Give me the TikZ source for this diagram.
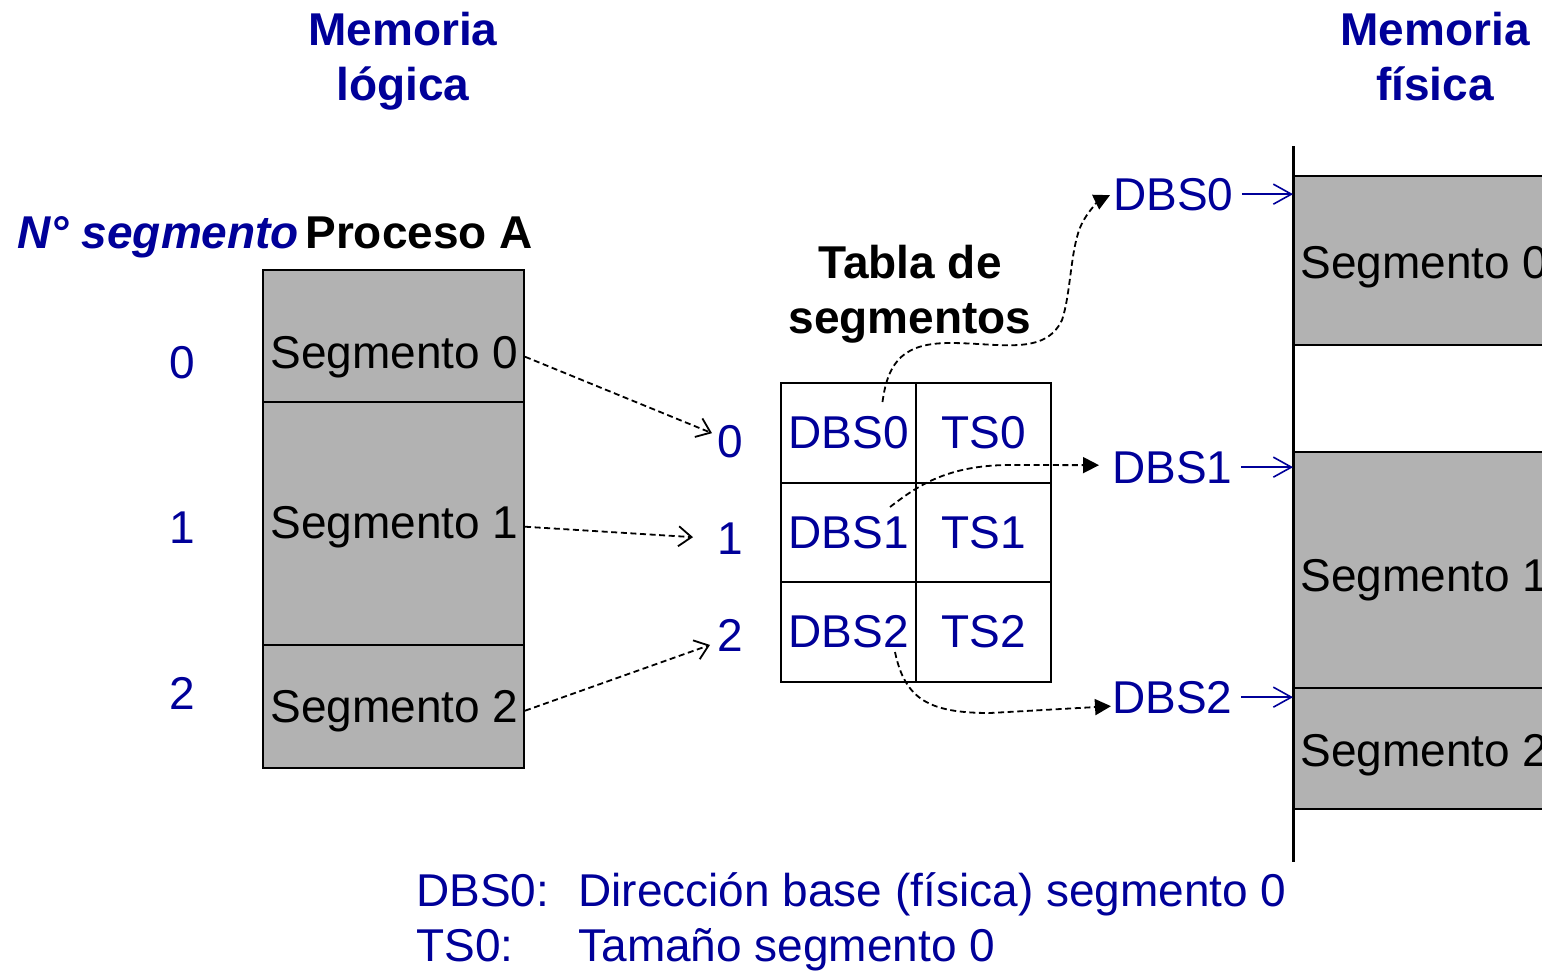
\documentclass[tikz,border=0pt]{standalone}
\usepackage{fontspec}
\setmainfont{Liberation Sans}
\usetikzlibrary{arrows.meta}
\definecolor{dblue}{RGB}{0,0,153}
\definecolor{segray}{RGB}{178,178,178}
\tikzset{
  txt/.style={inner sep=0pt, font=\fontsize{23}{27.5}\selectfont},
  btxt/.style={txt, anchor=base west},
  bluetxt/.style={btxt, text=dblue},
  title/.style={inner sep=0pt, anchor=base, text=dblue, font=\fontsize{23}{27.5}\selectfont\bfseries},
  segbox/.style={draw=black, line width=1pt, fill=segray, anchor=north west, inner sep=0pt, minimum width=130.5pt},
  cell/.style={draw=black, line width=1pt, inner sep=0pt, minimum width=67.5pt, minimum height=49.75pt, text=dblue, font=\fontsize{23}{27.5}\selectfont},
  dasharrow/.style={dash pattern=on 3pt off 1.8pt, line width=0.9pt, -{Straight Barb[length=6.5pt,width=10pt]}},
  curvearrow/.style={dash pattern=on 3pt off 1.8pt, line width=0.9pt, -{Triangle[length=8pt,width=8pt]}},
  bluearrow/.style={draw=dblue, line width=0.8pt, -{Straight Barb[length=9pt,width=10pt]}},
}
\begin{document}
\begin{tikzpicture}[x=0.5pt,y=-0.5pt]
\useasboundingbox (0,0) rectangle (1542,970);
\clip (0,0) rectangle (1542,970);

% titles
\node[title] (ml1) at (403,45) {Memoria};
\node[title] (ml2) at (403,100) {lógica};
\node[title] (mf1) at (1435,45) {Memoria};
\node[title] (mf2) at (1435,100) {física};

\node[btxt, text=dblue, font=\fontsize{23}{27.5}\selectfont\bfseries\itshape] (nseg) at (17,248) {N° segmento};
\node[btxt, font=\fontsize{23}{27.5}\selectfont\bfseries] (proc) at (305,248) {Proceso A};

% logical memory
\node[segbox, minimum height=66pt] (box0) at (262,269) {};
\node[segbox, minimum height=121.5pt] (box1) at (262,401) {};
\node[segbox, minimum height=61.5pt] (box2) at (262,644) {};
\node[btxt] (t0) at (270,368) {Segmento 0};
\node[btxt] (t1) at (270,538) {Segmento 1};
\node[btxt] (t2) at (270,722) {Segmento 2};

\node[bluetxt, anchor=base] (n0) at (182,378) {0};
\node[bluetxt, anchor=base] (n1) at (182,543) {1};
\node[bluetxt, anchor=base] (n2) at (182,709) {2};

% table index labels
\node[bluetxt] (r0) at (717,457) {0};
\node[bluetxt] (r1) at (717,554) {1};
\node[bluetxt] (r2) at (717,651) {2};

\draw[dasharrow] (t0.east -| box0.east) -- ([shift={(-5,-8)}]r0.west);
\draw[dasharrow] (t1.east -| box1.east) -- ([shift={(-24,-1)}]r1.west);
\draw[dasharrow] (t2.east -| box2.east) -- ([shift={(-7,10)}]r2.west);

% segment table
\node[title, text=black] (tb1) at (910,278) {Tabla de};
\node[title, text=black] (tb2) at (910,333) {segmentos};
\node[cell] (c00) at (848.5,433) {DBS0};
\node[cell] (c01) at (983.5,433) {TS0};
\node[cell] (c10) at (848.5,532.5) {DBS1};
\node[cell] (c11) at (983.5,532.5) {TS1};
\node[cell] (c20) at (848.5,632) {DBS2};
\node[cell] (c21) at (983.5,632) {TS2};

% physical memory
\coordinate (vtop) at (1293,146);
\coordinate (vbot) at (1293,862);
\draw[line width=1pt, fill=segray] (1293,176) rectangle (1600,345);
\draw[line width=1pt, fill=segray] (1293,452) rectangle (1600,688);
\draw[line width=1pt, fill=segray] (1293,688) rectangle (1600,809);
\draw[line width=1.5pt] (vtop) -- (vbot);
\node[btxt] (p0) at (1300,278) {Segmento 0};
\node[btxt] (p1) at (1300,591) {Segmento 1};
\node[btxt] (p2) at (1300,766) {Segmento 2};

% base address labels
\node[bluetxt] (l0) at (1113,210) {DBS0};
\node[bluetxt] (l1) at (1112,483) {DBS1};
\node[bluetxt] (l2) at (1112,713) {DBS2};

\draw[curvearrow] ([shift={(34,-31)}]c00.center) .. controls (888,360) and (905,343) .. (950,343)
  .. controls (1000,343) and (1045,356) .. (1062,320)
  .. controls (1072,290) and (1070,240) .. (1085,218)
  .. controls (1091,208) and (1100,200) .. ([shift={(-3,1)}]l0.west);
\draw[curvearrow] ([shift={(41.5,-25.5)}]c10.center) .. controls (915,488) and (945,465) .. (1010,465)
  -- ([shift={(-13,-2)}]l1.west);
\draw[curvearrow] ([shift={(46.5,20)}]c20.center) .. controls (905,700) and (930,713) .. (990,713)
  -- ([shift={(-1,9)}]l2.west);

\draw[bluearrow, shorten <=4pt] (l0.east) -- (l0.east -| vtop);
\draw[bluearrow, shorten <=4pt] (l1.east) -- (l1.east -| vtop);
\draw[bluearrow, shorten <=4pt] (l2.east) -- (l2.east -| vtop);

% legend
\node[bluetxt] (k1) at (416,906) {DBS0:};
\node[bluetxt] (k1t) at (578,906) {Dirección base (física) segmento 0};
\node[bluetxt] (k2) at (416,961) {TS0:};
\node[bluetxt] (k2t) at (578,961) {Tamaño segmento 0};
\end{tikzpicture}
\end{document}
